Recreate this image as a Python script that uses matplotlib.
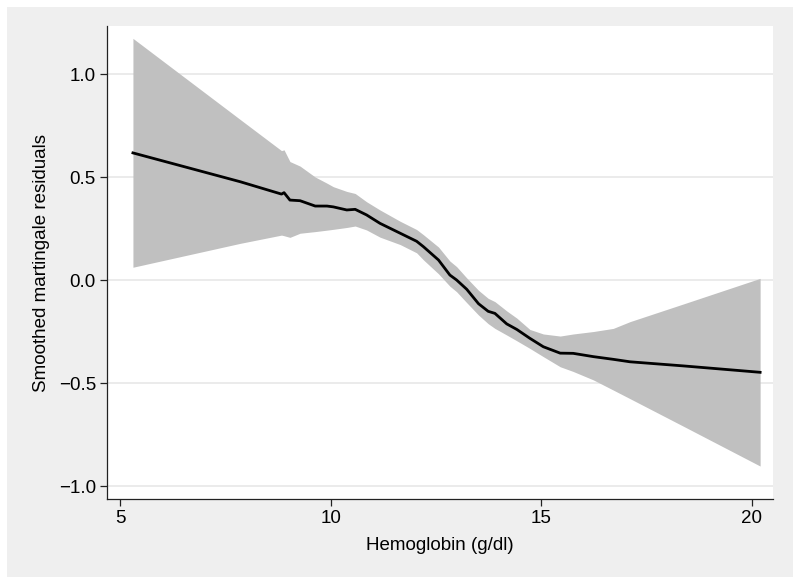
import matplotlib
matplotlib.use("Agg")
import matplotlib.pyplot as plt
from matplotlib.patches import Rectangle

plt.rcParams['font.family'] = ['Liberation Sans', 'DejaVu Sans']

hgb = [5.30, 7.85, 8.83, 8.89, 9.03, 9.27, 9.63, 9.91, 10.06, 10.38, 10.58, 10.85,
       11.17, 11.65, 12.04, 12.20, 12.56, 12.83, 12.99, 13.23, 13.51, 13.74, 13.90,
       14.18, 14.42, 14.73, 15.05, 15.45, 15.76, 16.24, 16.71, 17.11, 18.38, 20.20]
resid = [0.617, 0.477, 0.417, 0.424, 0.388, 0.385, 0.359, 0.359, 0.355, 0.340, 0.343, 0.316,
         0.275, 0.227, 0.188, 0.162, 0.097, 0.024, 0.000, -0.045, -0.115, -0.152, -0.162,
         -0.213, -0.240, -0.283, -0.324, -0.355, -0.356, -0.372, -0.385, -0.397, -0.417, -0.448]
upper = [1.173, 0.779, 0.628, 0.632, 0.575, 0.553, 0.500, 0.470, 0.453, 0.430, 0.420, 0.380,
         0.340, 0.285, 0.245, 0.220, 0.160, 0.092, 0.065, 0.010, -0.050, -0.089, -0.105,
         -0.150, -0.185, -0.240, -0.262, -0.272, -0.262, -0.250, -0.235, -0.202, -0.116, 0.008]
lower = [0.062, 0.178, 0.218, 0.215, 0.207, 0.227, 0.235, 0.242, 0.246, 0.255, 0.262, 0.243,
         0.208, 0.172, 0.132, 0.098, 0.030, -0.030, -0.057, -0.110, -0.170, -0.212, -0.235,
         -0.267, -0.295, -0.332, -0.372, -0.421, -0.444, -0.485, -0.534, -0.576, -0.710, -0.903]

xticks = [5, 10, 15, 20]
yticks = [-1.0, -0.5, 0.0, 0.5, 1.0]
ytick_labels = ["\u22121.0", "\u22120.5", "0.0", "0.5", "1.0"]

W, H = 800, 584
fig = plt.figure(figsize=(W / 100, H / 100), dpi=100, facecolor='white')
bg = Rectangle((7 / W, 7 / H), 786 / W, 570 / H, transform=fig.transFigure,
               facecolor='#efefef', edgecolor='none', zorder=-10)
fig.add_artist(bg)

ax = fig.add_axes([107 / W, 1 - 499 / H, 666 / W, 473 / H])
ax.set_zorder(1)
ax.set_facecolor('white')
ax.set_axisbelow(True)

ax.fill_between(hgb, lower, upper, color='#c0c0c0', linewidth=0, zorder=2)
ax.plot(hgb, resid, color='black', linewidth=2.0, zorder=3)

ax.set_xlim(4.684, 20.506)
ax.set_ylim(-1.063, 1.233)
ax.set_xticks(xticks)
ax.set_xticklabels([str(t) for t in xticks])
ax.set_yticks(yticks)
ax.set_yticklabels(ytick_labels)

ax.yaxis.grid(True, color='#e6e6e6', linewidth=1.1)
ax.xaxis.grid(False)

for s in ['top', 'right']:
    ax.spines[s].set_visible(False)
for s in ['left', 'bottom']:
    ax.spines[s].set_color('#222222')
    ax.spines[s].set_linewidth(0.9)

ax.tick_params(axis='both', direction='out', length=5, width=0.9, color='#222222',
               labelsize=13.5, pad=3)

ax.set_xlabel("Hemoglobin (g/dl)", fontsize=13.5, labelpad=7)
ax.set_ylabel("Smoothed martingale residuals", fontsize=13.5, labelpad=6)

fig.savefig("out.png", dpi=100, facecolor=fig.get_facecolor())
